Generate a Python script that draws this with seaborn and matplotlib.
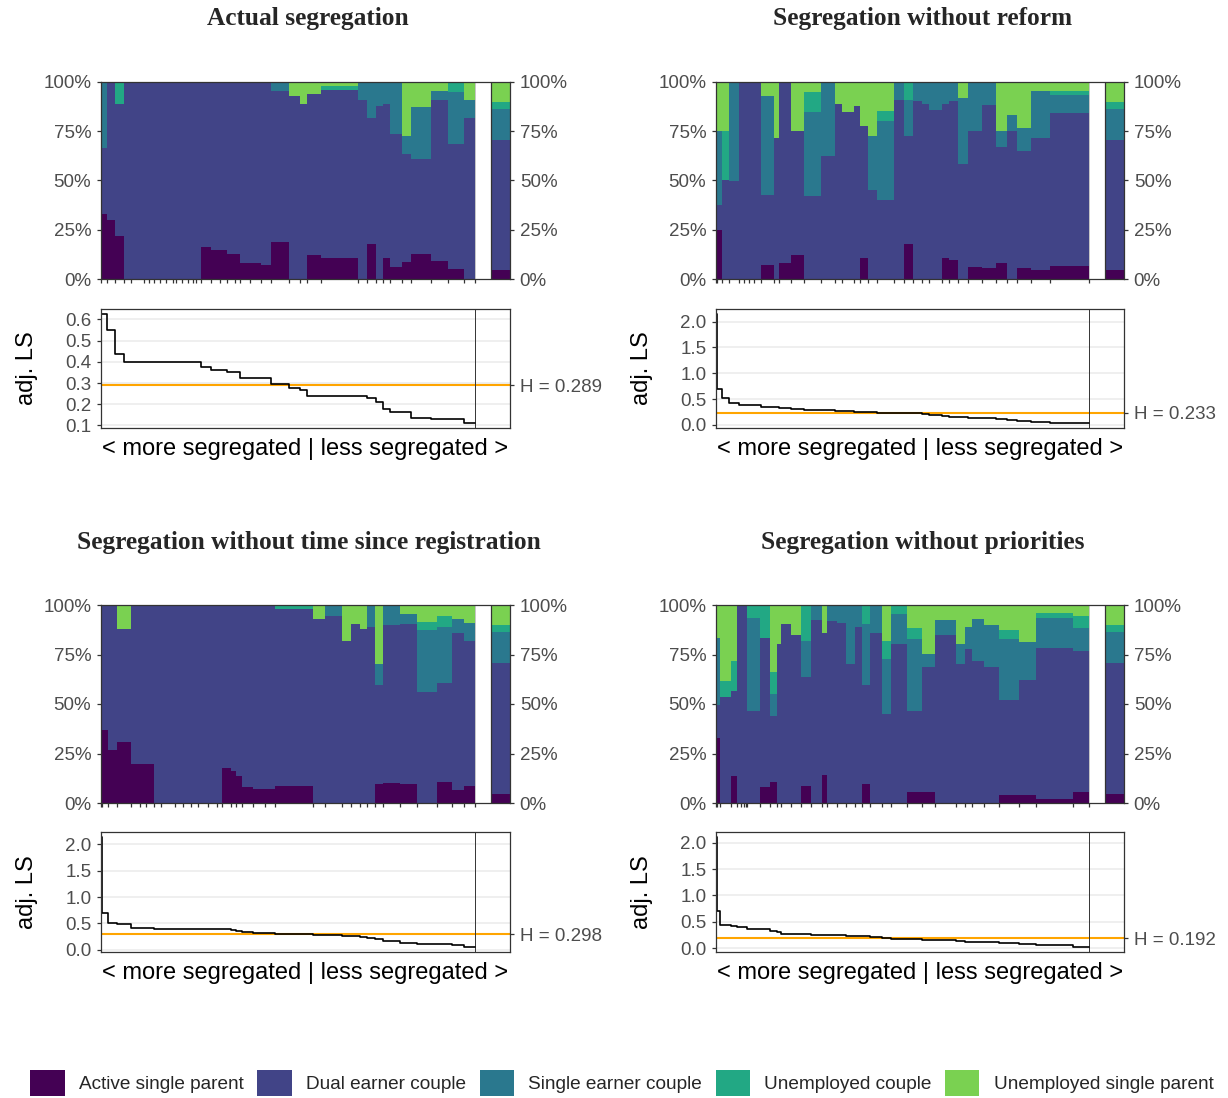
import numpy as np
import pandas as pd
import matplotlib
matplotlib.use("Agg")
import matplotlib.pyplot as plt
from matplotlib.patches import Patch
import seaborn as sns

# ---------------- data ----------------
categories = ["Active single parent", "Dual earner couple", "Single earner couple",
              "Unemployed couple", "Unemployed single parent"]
colors = ["#440154", "#414487", "#2A788E", "#22A884", "#7AD151"]
titles = ["Actual segregation", "Segregation without reform",
          "Segregation without time since registration", "Segregation without priorities"]
H_values = [0.289, 0.233, 0.298, 0.192]
x_label = "< more segregated | less segregated >"
y_label = "adj. LS"

# Panel 1: Actual segregation (unit sizes, composition shares, adj. LS)
p1_size = [18, 25, 25, 22, 38, 15, 15, 17, 18, 22, 10, 17, 18, 15, 10, 15,
           30, 25, 23, 22, 17, 28, 32, 31,
           54, 33, 22, 41, 112, 25, 27, 21, 22, 35, 28, 60, 50, 49, 30]
p1_asp = [.33, .30, .22, 0, 0, 0, 0, 0, 0, 0, 0, 0, 0, 0, 0, 0,
          .164, .148, .148, .128, .128, .083, .083, .073,
          .189, 0, 0, .123, .108, 0, .179, 0, .108, .062, .088, .128, .093, .052, 0]
p1_dual = [.336, .70, .67, 1, 1, 1, 1, 1, 1, 1, 1, 1, 1, 1, 1, 1,
           .836, .852, .852, .872, .872, .917, .917, .927,
           .765, .929, .889, .816, .852, .909, .639, .879, .781, .673, .548, .481, .816, .634, .818]
p1_single = [.334, 0, 0, 0, 0, 0, 0, 0, 0, 0, 0, 0, 0, 0, 0, 0,
             0, 0, 0, 0, 0, 0, 0, 0,
             .046, 0, 0, 0, 0, .091, .182, .121, .111, .265, .089, .263, .044, .263, .091]
p1_unc = [0, 0, .11, 0, 0, 0, 0, 0, 0, 0, 0, 0, 0, 0, 0, 0,
          0, 0, 0, 0, 0, 0, 0, 0,
          0, 0, 0, 0, .02, 0, 0, 0, 0, 0, 0, 0, 0, .051, 0]
p1_uesp = [0, 0, 0, 0, 0, 0, 0, 0, 0, 0, 0, 0, 0, 0, 0, 0,
           0, 0, 0, 0, 0, 0, 0, 0,
           0, .071, .111, .061, .02, 0, 0, 0, 0, 0, .275, .128, .047, 0, .091]
p1_ls = [.624, .548, .438, .397, .397, .397, .397, .397, .397, .397, .397, .397, .397, .397, .397, .397,
         .375, .36, .36, .35, .35, .325, .325, .325,
         .295, .278, .265, .24, .24, .24, .23, .21, .175, .165, .165, .135, .13, .128, .113]
p1_total = [.047, .660, .155, .035, .103]

# Panel 2: without reform
p2_size = [2, 16, 22, 28, 17, 13, 17, 20, 40, 15, 33, 39, 51, 42, 22, 35, 18, 24, 27, 51,
           30, 27, 27, 21, 39, 21, 27, 30, 42, 42, 33, 30, 42, 57, 115]
p2_asp = [.25, .25, 0, 0, 0, 0, 0, 0, .073, 0, .083, .123, 0, 0, 0, 0, 0, .108, 0, 0,
          0, .179, 0, 0, 0, .108, .098, 0, .062, .057, .083, 0, .057, .047, .067]
p2_dual = [.126, .126, .503, .499, 1, 1, 1, 1, .354, .717, .917, .627, .422, .624, .887, .847, .877, .668, .452, .401,
           .907, .546, .902, .887, .857, .779, .804, .583, .688, .825, .586, .75, .592, .668, .774]
p2_single = [.374, .374, 0, .501, 0, 0, 0, 0, .50, 0, 0, 0, .425, .376, 0, 0, 0, 0, .273, .40,
             .093, .182, .098, .113, .143, .113, .098, .334, .25, .118, .081, .081, .117, .238, .092]
p2_unc = [0, 0, .247, 0, 0, 0, 0, 0, 0, 0, 0, 0, .101, 0, 0, 0, 0, 0, 0, .051,
          0, .093, 0, 0, 0, 0, 0, 0, 0, 0, 0, 0, 0, 0, .02]
p2_uesp = [.25, .25, .25, 0, 0, 0, 0, 0, .073, .283, 0, .25, .052, 0, .113, .153, .123, .224, .275, .148,
           0, 0, 0, 0, 0, 0, 0, .083, 0, 0, .25, .169, .234, .047, .047]
p2_ls = [2.14, .70, .53, .42, .39, .39, .39, .39, .35, .34, .33, .30, .29, .285, .265, .26, .255, .25, .245, .24,
         .235, .23, .225, .21, .20, .165, .16, .155, .14, .13, .12, .09, .08, .05, .045]
p2_total = [.047, .660, .155, .035, .103]

# Panel 3: without time since registration
p3_size = [2, 20, 27, 41, 25, 20, 22, 21, 42, 25, 25, 20, 30, 25, 16, 27, 15, 18, 33, 36, 30,
           114, 36, 48, 27, 27, 21, 24, 24, 51, 51, 60, 45, 36, 31]
p3_asp = [.369, .369, .268, .308, .197, .197, .197, 0, 0, 0, 0, 0, 0, 0, 0, .176, .161, .136, .08, .069, .069,
          .085, 0, 0, 0, 0, 0, 0, .095, .10, .095, 0, .105, .064, .085]
p3_dual = [.631, .631, .732, .572, .803, .803, .803, 1, 1, 1, 1, 1, 1, 1, 1, .824, .839, .864, .92, .931, .931,
           .895, .929, .944, .819, .903, .878, .888, .503, .798, .808, .563, .503, .794, .732]
p3_single = [0, 0, 0, 0, 0, 0, 0, 0, 0, 0, 0, 0, 0, 0, 0, 0, 0, 0, 0, 0, 0,
             0, 0, .056, 0, 0, 0, .112, .102, .102, .051, .31, .28, .071, .091]
p3_unc = [0, 0, 0, 0, 0, 0, 0, 0, 0, 0, 0, 0, 0, 0, 0, 0, 0, 0, 0, 0, 0,
          .02, 0, 0, 0, 0, 0, 0, 0, 0, 0, .041, .056, 0, 0]
p3_uesp = [0, 0, 0, .12, 0, 0, 0, 0, 0, 0, 0, 0, 0, 0, 0, 0, 0, 0, 0, 0, 0,
           0, .071, 0, .181, .097, .122, 0, .30, 0, .046, .086, .056, .071, .092]
p3_ls = [2.13, .69, .50, .48, .41, .41, .41, .39, .39, .39, .39, .39, .39, .39, .39, .385, .37, .35, .33, .32, .32,
         .29, .28, .27, .265, .26, .25, .22, .20, .17, .12, .11, .10, .08, .06]
p3_total = [.044, .661, .158, .035, .102]

# Panel 4: without priorities
p4_size = [2, 11, 33, 18, 12, 8, 6, 4, 39, 30, 21, 12, 27, 30, 30, 33, 15, 30, 27, 27,
           21, 24, 36, 27, 48, 45, 39, 63, 27, 21, 36, 45, 60, 51, 111, 46]
p4_asp = [.329, .329, 0, .136, 0, 0, 0, 0, 0, .08, .105, 0, 0, 0, .085, 0, .141, 0, 0, 0,
          0, .095, 0, 0, 0, .054, .054, 0, 0, 0, 0, 0, .039, .039, .019, .054]
p4_dual = [.168, .168, .537, .432, 1, 1, 1, 1, .466, .752, .336, .802, .903, .847, .549, .924, .717, .919, .908, .70,
           .888, .503, .858, .451, .802, .412, .631, .847, .70, .776, .715, .685, .483, .58, .762, .712]
p4_single = [.335, .335, 0, 0, 0, 0, 0, 0, .468, 0, .112, 0, 0, 0, .183, .076, 0, .081, .092, .30,
             .112, .305, .142, .274, .152, .361, .066, .077, .102, .112, .214, .213, .305, .193, .153, .117]
p4_unc = [0, 0, .077, .147, 0, 0, 0, 0, .066, .168, .111, 0, 0, 0, .183, 0, 0, 0, 0, 0,
          0, .097, 0, .092, .046, .056, 0, 0, 0, 0, 0, 0, .046, 0, .025, .061]
p4_uesp = [.168, .168, .386, .285, 0, 0, 0, 0, 0, 0, .336, .198, .097, .153, 0, 0, .142, 0, 0, 0,
           0, 0, 0, .183, 0, .117, .249, .076, .198, .112, .071, .102, .127, .188, .041, .056]
p4_ls = [2.1, .70, .43, .42, .40, .40, .40, .40, .37, .36, .33, .30, .27, .265, .26, .255, .25, .245, .24, .235,
         .23, .225, .22, .19, .18, .17, .16, .15, .13, .12, .115, .11, .09, .08, .05, .03]
p4_total = [.044, .661, .158, .035, .102]

panels = [
    (p1_size, [p1_asp, p1_dual, p1_single, p1_unc, p1_uesp], p1_ls, p1_total),
    (p2_size, [p2_asp, p2_dual, p2_single, p2_unc, p2_uesp], p2_ls, p2_total),
    (p3_size, [p3_asp, p3_dual, p3_single, p3_unc, p3_uesp], p3_ls, p3_total),
    (p4_size, [p4_asp, p4_dual, p4_single, p4_unc, p4_uesp], p4_ls, p4_total),
]

# ---------------- style ----------------
sns.set_theme(style="white")
plt.rcParams["font.family"] = ["Liberation Sans", "DejaVu Sans"]

W, H = 1228, 1098
fig = plt.figure(figsize=(W / 100, H / 100), dpi=100)
fig.patch.set_facecolor("white")


def box(l, t, r, b):
    return [l / W, 1 - b / H, (r - l) / W, (b - t) / H]


GAP = 0.045
OVR_W = 0.05
XMAX = 1 + GAP + OVR_W
FRAME = "#333333"
TICKC = "#4D4D4D"
TSIZE = 13.5

bar_boxes = [(101, 82, 510, 279), (716, 82, 1124, 279), (101, 605, 510, 803), (716, 605, 1124, 803)]
ls_boxes = [(101, 309, 510, 428), (716, 309, 1124, 428), (101, 832, 510, 952), (716, 832, 1124, 952)]
title_pos = [(308, 18), (923, 18), (309, 543), (923, 543)]

for i, (size, comp, ls, total) in enumerate(panels):
    axb = fig.add_axes(box(*bar_boxes[i]))
    axl = fig.add_axes(box(*ls_boxes[i]))

    size = np.asarray(size, float)
    w = size / size.sum()
    left = np.concatenate([[0.0], np.cumsum(w)[:-1]])
    comp = np.asarray(comp, float)
    comp = comp / comp.sum(axis=0)
    bottom = np.zeros(len(w))
    for k in range(5):
        axb.bar(left, comp[k], width=w, bottom=bottom, align="edge",
                color=colors[k], linewidth=0, antialiased=False)
        bottom += comp[k]
    tot = np.asarray(total, float)
    tot = tot / tot.sum()
    b = 0.0
    for k in range(5):
        axb.bar([1 + GAP], [tot[k]], width=OVR_W, bottom=b, align="edge",
                color=colors[k], linewidth=0, antialiased=False)
        b += tot[k]
    axb.axvline(1.0, color="#BBBBBB", lw=0.6)
    axb.axvline(1 + GAP, color=FRAME, lw=0.9)
    axb.set_xlim(0, XMAX)
    axb.set_ylim(0, 1)
    axb.set_xticks(np.append(left, 1.0))
    axb.set_xticklabels([])
    axb.set_yticks([0, .25, .5, .75, 1])
    axb.set_yticklabels(["0%", "25%", "50%", "75%", "100%"])
    axb.tick_params(axis="y", left=True, right=True, labelleft=True, labelright=True,
                    length=3, width=0.9, color=FRAME, pad=4, labelsize=TSIZE, labelcolor=TICKC)
    axb.tick_params(axis="x", bottom=True, length=3, width=0.9, color=FRAME, direction="out")
    for sp in axb.spines.values():
        sp.set_visible(True)
        sp.set_color(FRAME)
        sp.set_linewidth(0.9)
    axb.grid(False)

    # adj. LS step line
    xs = np.append(left, 1.0)
    ys = np.append(np.asarray(ls, float), ls[-1])
    df = pd.DataFrame({"x": xs, "y": ys})
    Hv = H_values[i]
    axl.axhline(Hv, color="#FFA500", lw=1.5, zorder=1.5)
    sns.lineplot(data=df, x="x", y="y", drawstyle="steps-post", color="black",
                 lw=1.2, ax=axl, estimator=None, sort=True, zorder=2.5)
    axl.axvline(1.0, color=FRAME, lw=0.7)
    lo, hi = min(ls), max(ls)
    pad = 0.05 * (hi - lo)
    axl.set_xlim(0, XMAX)
    axl.set_ylim(lo - pad, hi + pad)
    if i == 0:
        yt = [0.1, 0.2, 0.3, 0.4, 0.5, 0.6]
        ytl = ["0.1", "0.2", "0.3", "0.4", "0.5", "0.6"]
    else:
        yt = [0.0, 0.5, 1.0, 1.5, 2.0]
        ytl = ["0.0", "0.5", "1.0", "1.5", "2.0"]
    axl.set_yticks(yt)
    axl.set_yticklabels(ytl)
    axl.set_xticks([])
    axl.yaxis.grid(True, color="#EBEBEB", lw=1.1)
    axl.xaxis.grid(False)
    axl.set_axisbelow(True)
    axl.tick_params(axis="y", left=True, length=3, width=0.9, color=FRAME, pad=4,
                    labelsize=TSIZE, labelcolor=TICKC)
    axl.set_xlabel(x_label, fontsize=17, color="black")
    axl.xaxis.set_label_coords(0.5, -0.08)
    axl.set_ylabel(y_label, fontsize=17, color="black")
    axl.yaxis.set_label_coords(-0.155, 0.5)
    for sp in axl.spines.values():
        sp.set_visible(True)
        sp.set_color(FRAME)
        sp.set_linewidth(0.9)

    axr = axl.twinx()
    axr.set_ylim(axl.get_ylim())
    axr.set_yticks([Hv])
    axr.set_yticklabels([f"H = {Hv:.3f}"])
    axr.tick_params(axis="y", right=True, length=3, width=0.9, color=FRAME, pad=4,
                    labelsize=TSIZE, labelcolor=TICKC)
    axr.grid(False)
    for sp in axr.spines.values():
        sp.set_visible(False)

    tx, ty = title_pos[i]
    fig.text(tx / W, 1 - ty / H, titles[i], ha="center", va="center",
             fontsize=18.3, fontweight="bold", family=["Liberation Serif", "DejaVu Serif"])

handles = [Patch(facecolor=c, edgecolor="none", label=l) for c, l in zip(colors, categories)]
fig.legend(handles=handles, loc="center", bbox_to_anchor=(622 / W, 1 - 1083 / H), ncol=5,
           frameon=False, fontsize=13.7, handlelength=1.8, handleheight=1.8,
           handletextpad=0.75, columnspacing=0.72)

fig.savefig("out.png", dpi=100, facecolor="white")
